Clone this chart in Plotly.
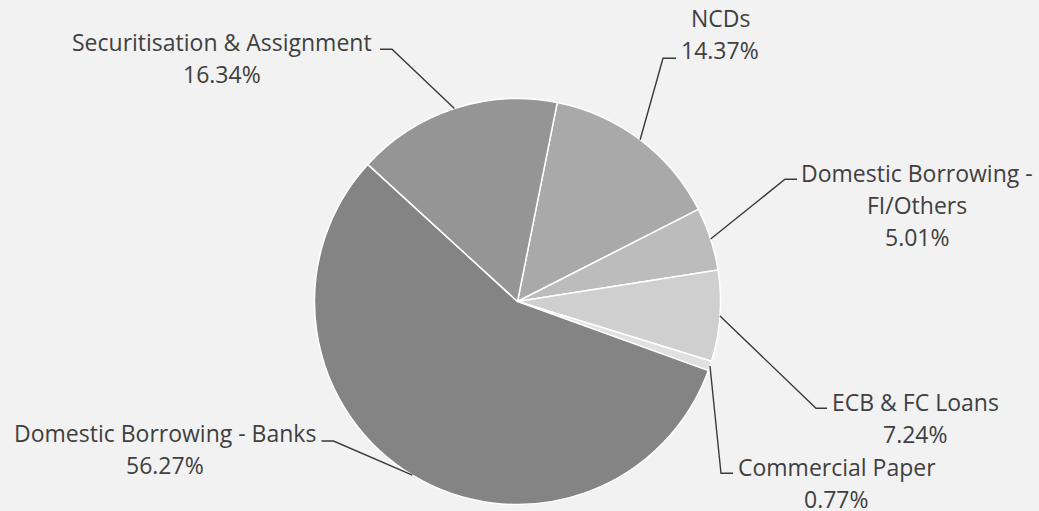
import plotly.graph_objects as go
import math

# ---- data ----
categories = ["NCDs", "Domestic Borrowing - FI/Others", "ECB & FC Loans",
              "Commercial Paper", "Domestic Borrowing - Banks", "Securitisation & Assignment"]
shares = [14.37, 5.01, 7.24, 0.77, 56.27, 16.34]
slice_colors = ["#a9a9a9", "#bcbcbc", "#cfcfcf", "#e0e0e0", "#848484", "#959595"]

# ---- layout constants (pixels) ----
W, H = 1039, 511
CX, CY, R = 517.5, 301.5, 203.0
ROTATION = 11.3
LINE_GAP = 32.0
FONT = dict(family="Open Sans", size=23, color="#404040")

# label placement: (x centre, y of first line, wrapped name lines, leader start x, leader elbow x, leader y)
label_layout = {
    "NCDs": (720, 17.5, ["NCDs"], 676, 663, 58.3),
    "Domestic Borrowing - FI/Others": (917, 173, ["Domestic Borrowing -", "FI/Others"], 797, 785, 179.3),
    "ECB & FC Loans": (915, 401.5, ["ECB & FC Loans"], 827, 816, 408.3),
    "Commercial Paper": (836.5, 466.5, ["Commercial Paper"], 733, 721, 473.3),
    "Domestic Borrowing - Banks": (165, 433, ["Domestic Borrowing - Banks"], 321.5, 333.5, 441),
    "Securitisation & Assignment": (222, 42.5, ["Securitisation & Assignment"], 380, 392, 49.3),
}


def px(x):
    return x / W


def py(y):
    return 1 - y / H


fig = go.Figure(go.Pie(
    labels=categories, values=shares, sort=False, direction="clockwise",
    rotation=ROTATION, textinfo="none", hoverinfo="label+percent",
    marker=dict(colors=slice_colors, line=dict(color="#ffffff", width=1.5)),
    domain=dict(x=[px(CX - R), px(CX + R)], y=[py(CY + R), py(CY - R)]),
    showlegend=False,
))

annotations = []
shapes = []
total = sum(shares)
cum = 0.0
for name, v in zip(categories, shares):
    mid = math.radians(ROTATION + 360 * (cum + v / 2) / total)
    cum += v
    ex, ey = CX + R * math.sin(mid), CY - R * math.cos(mid)
    lx, ly, lines, sx, bx, by = label_layout[name]
    lines = lines + [f"{v:.2f}%"]
    for i, t in enumerate(lines):
        annotations.append(dict(x=px(lx), y=py(ly + i * LINE_GAP), xref="paper", yref="paper",
                                text=t, showarrow=False, xanchor="center", yanchor="middle",
                                font=FONT))
    path = f"M {px(sx)} {py(by)} L {px(bx)} {py(by)} L {px(ex)} {py(ey)}"
    shapes.append(dict(type="path", path=path, xref="paper", yref="paper",
                       line=dict(color="#3a3a3a", width=1.4)))

fig.update_layout(
    width=W, height=H, margin=dict(l=0, r=0, t=0, b=0),
    paper_bgcolor="#f2f2f2", plot_bgcolor="#f2f2f2",
    annotations=annotations, shapes=shapes,
)
fig.write_html("out.html")
